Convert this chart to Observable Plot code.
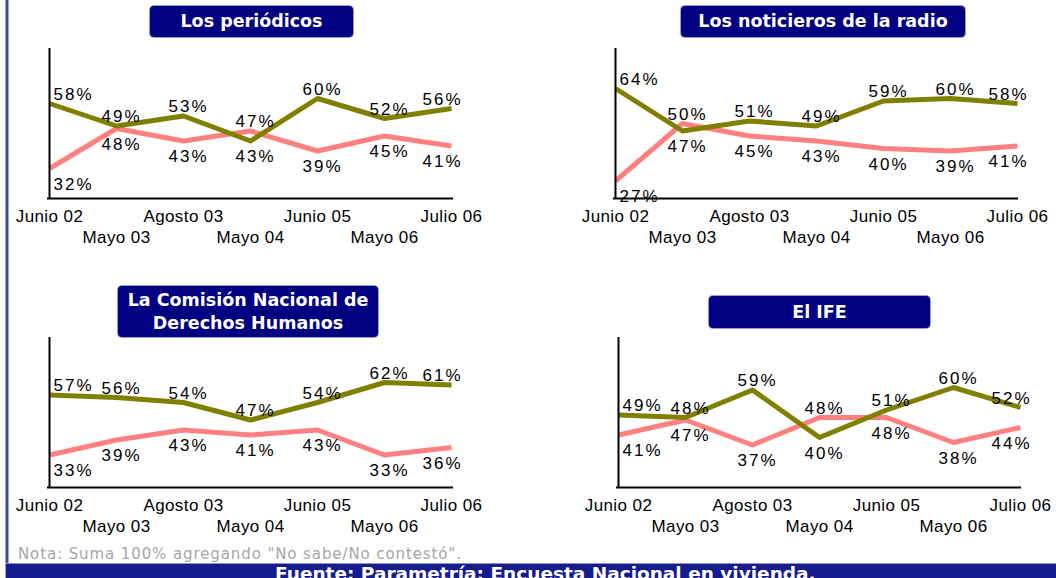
<!DOCTYPE html>
<html><head><meta charset="utf-8">
<script src="https://cdn.jsdelivr.net/npm/d3@7"></script>
<script src="https://cdn.jsdelivr.net/npm/@observablehq/plot@0.6"></script>
<style>
html,body{margin:0;padding:0;background:#fff;}
#page{position:relative;width:1056px;height:578px;overflow:hidden;background:#fff;}
.panel{position:absolute;}
.title{position:absolute;background:#000080;color:#fff;font-family:"DejaVu Sans",sans-serif;font-weight:bold;font-size:17.5px;text-align:center;border-radius:4px;box-shadow:0 0 0 1px #9aa0cc;display:flex;align-items:center;justify-content:center;line-height:23px;white-space:nowrap;}
#lborder{position:absolute;left:6px;top:0;width:2px;height:578px;background:#3a48b0;box-shadow:0 0 0 1px #9ea6e0;}
#band{position:absolute;left:6px;right:0;top:563px;height:20px;background:#161c8c;border-top:1px solid #8c94d4;color:#fff;font-family:"DejaVu Sans",sans-serif;font-weight:bold;font-size:18.5px;}
#band span{position:absolute;left:269px;top:-1px;white-space:nowrap;}
#nota{position:absolute;left:18px;top:545px;font-family:"DejaVu Sans",sans-serif;font-size:15px;color:#a6a6a6;letter-spacing:0.9px;white-space:nowrap;}
svg g[aria-label="text"] text{letter-spacing:2px;}
svg g[aria-label="x-axis tick label"] text{letter-spacing:0.4px;}
</style></head><body><div id="page"></div>
<script>
// ---- data ----
const dates = ["Junio 02","Mayo 03","Agosto 03","Mayo 04","Junio 05","Mayo 06","Julio 06"];
const row1Ticks = ["Junio 02","Agosto 03","Junio 05","Julio 06"];
const row2Ticks = ["Mayo 03","Mayo 04","Mayo 06"];

const titles = ["Los periódicos","Los noticieros de la radio","La Comisión Nacional de<br>Derechos Humanos","El IFE"];

const periodicosVerde = [58,49,53,43,60,52,56];
const periodicosRosa  = [32,48,43,47,39,45,41];
const radioVerde      = [64,47,51,49,59,60,58];
const radioRosa       = [27,50,45,43,40,39,41];
const cndhVerde       = [57,56,54,47,54,62,61];
const cndhRosa        = [33,39,43,41,43,33,36];
const ifeVerde        = [49,48,59,40,51,60,52];
const ifeRosa         = [41,47,37,48,48,38,44];

const nota = 'Nota: Suma 100% agregando  "No sabe/No contestó".';
const fuente = "Fuente: Parametría: Encuesta Nacional en vivienda.";

const verde = "#808000", rosa = "#ff8080";
const page = document.getElementById("page");

function panel(a, b, left, top, ml, mr) {
  const n = dates.length;
  const data = dates.map((d, i) => ({date: d, i, a: a[i], b: b[i], hi: Math.max(a[i], b[i]), lo: Math.min(a[i], b[i])}));
  const first = d => d.i === 0, last = d => d.i === n - 1, mid = d => d.i > 0 && d.i < n - 1;
  const labels = [];
  for (const [filter, anchor, dx] of [[first, "start", 4], [mid, "middle", 5], [last, "end", 11]]) {
    labels.push(Plot.text(data, {filter, x: "date", y: "hi", text: d => d.hi + "%", textAnchor: anchor, dx, dy: -4, lineAnchor: "bottom", fontSize: 17, fill: "#000"}));
    labels.push(Plot.text(data, {filter, x: "date", y: "lo", text: d => d.lo + "%", textAnchor: anchor, dx, dy: 9, lineAnchor: "top", fontSize: 17, fill: "#000"}));
  }
  const svg = Plot.plot({
    width: 528, height: 250,
    marginLeft: ml, marginRight: mr, marginTop: 48, marginBottom: 52,
    style: {fontFamily: "'Liberation Sans', Arial, sans-serif", fontSize: "17px", color: "#000", background: "transparent", overflow: "visible"},
    x: {type: "point", domain: dates, padding: 0},
    y: {domain: [20, 80], axis: null},
    marks: [
      Plot.line(data, {x: "date", y: "b", stroke: rosa, strokeWidth: 5, curve: "linear", strokeLinecap: "butt", strokeLinejoin: "round"}),
      Plot.line(data, {x: "date", y: "a", stroke: verde, strokeWidth: 5, curve: "linear", strokeLinecap: "butt", strokeLinejoin: "round"}),
      Plot.ruleX([dates[0]], {stroke: "#000", strokeWidth: 2}),
      Plot.ruleY([20], {stroke: "#000", strokeWidth: 2}),
      Plot.axisX(row1Ticks, {tickSize: 0, tickPadding: 11, label: null, fontSize: 17}),
      Plot.axisX(row2Ticks, {tickSize: 0, tickPadding: 32, label: null, fontSize: 17}),
      ...labels
    ]
  });
  svg.classList.add("panel");
  svg.style.left = left + "px";
  svg.style.top = top + "px";
  page.appendChild(svg);
}

function title(html, left, top, w, h) {
  const d = document.createElement("div");
  d.className = "title";
  d.innerHTML = html;
  Object.assign(d.style, {left: left + "px", top: top + "px", width: w + "px", height: h + "px"});
  page.appendChild(d);
}

panel(periodicosVerde, periodicosRosa, 0, 0, 47, 75);
panel(radioVerde, radioRosa, 528, 0, 85, 38);
panel(cndhVerde, cndhRosa, 0, 289, 47, 75);
panel(ifeVerde, ifeRosa, 528, 289, 88, 35);

title(titles[0], 150, 6, 203, 31);
title(titles[1], 681, 6, 284, 31);
title(titles[2], 118, 286, 260, 51);
title(titles[3], 709, 296, 221, 32);

const lb = document.createElement("div"); lb.id = "lborder"; page.appendChild(lb);
const nt = document.createElement("div"); nt.id = "nota"; nt.textContent = nota; page.appendChild(nt);
const band = document.createElement("div"); band.id = "band";
const sp = document.createElement("span"); sp.textContent = fuente; band.appendChild(sp);
page.appendChild(band);
</script></body></html>
